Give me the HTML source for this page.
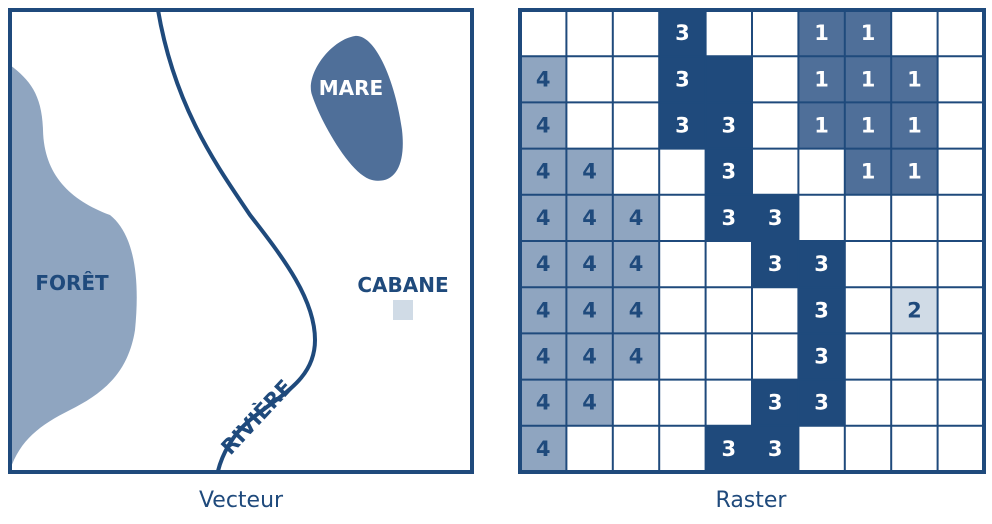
<!DOCTYPE html>
<html><head><meta charset="utf-8"><style>
body{margin:0;background:#fff;width:992px;height:519px;overflow:hidden}
</style></head><body>
<svg width="992" height="519" viewBox="0 0 992 519" xmlns="http://www.w3.org/2000/svg" font-family="DejaVu Sans, Liberation Sans, sans-serif">
<path d="M10 65 C30 80 42 95 43 130 C44 175 70 200 110 215 C135 235 140 280 135 330 C128 375 100 395 70 410 C40 425 20 440 10 470 Z" fill="#8fa5c0"/>
<path d="M158 10 C175 110 220 170 250 215 C285 260 315 300 315 340 C315 380 280 395 250 420 C232 435 222 455 218 471" fill="none" stroke="#1f4a7c" stroke-width="4"/>
<path d="M355 36 C375 34 395 80 402 130 C406 165 395 185 372 180 C350 175 320 120 312 95 C305 75 330 40 355 36 Z" fill="#4f6f99"/>
<rect x="393" y="300" width="20" height="20" fill="#d0dbe6"/>
<rect x="10" y="10" width="462" height="462" fill="none" stroke="#1f4a7c" stroke-width="4"/>
<g font-weight="bold" font-size="20" text-anchor="middle">
<text x="72" y="290" fill="#1f4a7c">FORÊT</text>
<text x="351" y="95" fill="#fff">MARE</text>
<text x="403" y="292" fill="#1f4a7c">CABANE</text>
<text x="0" y="0" fill="#1f4a7c" font-size="21" transform="translate(262 422) rotate(-47)">RIVIÈRE</text>
</g>
<g id="grid"></g>
<rect x="520" y="10" width="464" height="462" fill="none" stroke="#1f4a7c" stroke-width="4"/>
<text x="241" y="507" font-size="22" text-anchor="middle" fill="#1f4a7c">Vecteur</text>
<text x="751" y="507" font-size="22" text-anchor="middle" fill="#1f4a7c">Raster</text>
</svg>
<script>
var rows=["___3__11__","4__3D_111_","4__33_111_","44__3__11_","444_33____","444__33___","444___3_2_","444___3___","44___33___","4___33____"];
var g=document.getElementById('grid'),s="";
var cw=46.4,ch=46.2;
var col={"3":"#1f4a7c","D":"#1f4a7c","1":"#4f6f99","4":"#8fa5c0","2":"#d0dbe6"};
for(var r=0;r<10;r++)for(var c=0;c<10;c++){var v=rows[r][c];var x=520+c*cw,y=10+r*ch;
if(v!="_")s+='<rect x="'+x+'" y="'+y+'" width="'+(cw+0.5)+'" height="'+(ch+0.5)+'" fill="'+col[v]+'"/>';
if(v!="_"&&v!="D")s+='<text x="'+(x+cw/2)+'" y="'+(y+ch/2+7)+'" font-size="21" font-weight="bold" text-anchor="middle" fill="'+((v=="3"||v=="1")?"#fff":"#1f4a7c")+'">'+v+'</text>';}
for(var i=1;i<10;i++){s+='<line x1="'+(520+i*cw)+'" y1="10" x2="'+(520+i*cw)+'" y2="472" stroke="#1f4a7c" stroke-width="2"/>';
s+='<line x1="520" y1="'+(10+i*ch)+'" x2="984" y2="'+(10+i*ch)+'" stroke="#1f4a7c" stroke-width="2"/>';}
g.innerHTML=s;
</script>
</body></html>
